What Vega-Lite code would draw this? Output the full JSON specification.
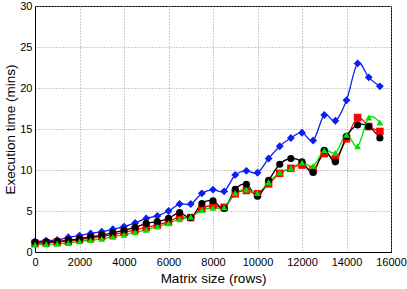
{
  "$schema": "https://vega.github.io/schema/vega-lite/v6.json",
  "width": 356,
  "height": 246,
  "autosize": {"type": "none"},
  "padding": {"left": 35, "top": 6, "right": 16, "bottom": 37},
  "background": "white",
  "config": {
    "view": {"stroke": "black", "strokeWidth": 1},
    "font": "Liberation Sans",
    "axis": {
      "labelFont": "Liberation Sans", "titleFont": "Liberation Sans",
      "labelFontSize": 11, "titleFontSize": 13.5, "titleFontWeight": "normal",
      "labelColor": "black", "titleColor": "black",
      "domainColor": "black", "tickColor": "black",
      "gridColor": "#9a9a9a", "gridDash": [1, 2], "gridWidth": 1,
      "ticks": false, "labelPadding": 4
    }
  },
  "data": {"values": [
    {"rows":0,"s":"1","t":1.26},{"rows":500,"s":"1","t":1.38},{"rows":1000,"s":"1","t":1.46},{"rows":1500,"s":"1","t":1.8},{"rows":2000,"s":"1","t":2.0},{"rows":2500,"s":"1","t":2.27},{"rows":3000,"s":"1","t":2.48},{"rows":3500,"s":"1","t":2.77},{"rows":4000,"s":"1","t":3.1},{"rows":4500,"s":"1","t":3.55},{"rows":5000,"s":"1","t":4.1},{"rows":5500,"s":"1","t":4.4},{"rows":6000,"s":"1","t":5.0},{"rows":6500,"s":"1","t":5.85},{"rows":7000,"s":"1","t":5.85},{"rows":7500,"s":"1","t":7.15},{"rows":8000,"s":"1","t":7.6},{"rows":8500,"s":"1","t":7.4},{"rows":9000,"s":"1","t":9.4},{"rows":9500,"s":"1","t":9.9},{"rows":10000,"s":"1","t":9.67},{"rows":10500,"s":"1","t":11.4},{"rows":11000,"s":"1","t":12.9},{"rows":11500,"s":"1","t":13.9},{"rows":12000,"s":"1","t":14.55},{"rows":12500,"s":"1","t":13.6},{"rows":13000,"s":"1","t":16.7},{"rows":13500,"s":"1","t":16.0},{"rows":14000,"s":"1","t":18.5},{"rows":14500,"s":"1","t":23.0},{"rows":15000,"s":"1","t":21.3},{"rows":15500,"s":"1","t":20.2},
    {"rows":0,"s":"2","t":1.05},{"rows":500,"s":"2","t":1.1},{"rows":1000,"s":"2","t":1.2},{"rows":1500,"s":"2","t":1.3},{"rows":2000,"s":"2","t":1.5},{"rows":2500,"s":"2","t":1.7},{"rows":3000,"s":"2","t":1.9},{"rows":3500,"s":"2","t":2.1},{"rows":4000,"s":"2","t":2.4},{"rows":4500,"s":"2","t":2.7},{"rows":5000,"s":"2","t":3.0},{"rows":5500,"s":"2","t":3.3},{"rows":6000,"s":"2","t":3.7},{"rows":6500,"s":"2","t":4.3},{"rows":7000,"s":"2","t":4.2},{"rows":7500,"s":"2","t":5.3},{"rows":8000,"s":"2","t":5.7},{"rows":8500,"s":"2","t":5.45},{"rows":9000,"s":"2","t":7.1},{"rows":9500,"s":"2","t":7.5},{"rows":10000,"s":"2","t":7.1},{"rows":10500,"s":"2","t":8.3},{"rows":11000,"s":"2","t":9.6},{"rows":11500,"s":"2","t":10.2},{"rows":12000,"s":"2","t":10.6},{"rows":12500,"s":"2","t":10.0},{"rows":13000,"s":"2","t":12.0},{"rows":13500,"s":"2","t":11.4},{"rows":14000,"s":"2","t":13.8},{"rows":14500,"s":"2","t":16.4},{"rows":15000,"s":"2","t":15.3},{"rows":15500,"s":"2","t":14.7},
    {"rows":0,"s":"3","t":1.2},{"rows":500,"s":"3","t":1.25},{"rows":1000,"s":"3","t":1.3},{"rows":1500,"s":"3","t":1.45},{"rows":2000,"s":"3","t":1.6},{"rows":2500,"s":"3","t":1.85},{"rows":3000,"s":"3","t":2.05},{"rows":3500,"s":"3","t":2.35},{"rows":4000,"s":"3","t":2.65},{"rows":4500,"s":"3","t":3.0},{"rows":5000,"s":"3","t":3.5},{"rows":5500,"s":"3","t":3.7},{"rows":6000,"s":"3","t":4.1},{"rows":6500,"s":"3","t":4.8},{"rows":7000,"s":"3","t":4.2},{"rows":7500,"s":"3","t":5.9},{"rows":8000,"s":"3","t":6.25},{"rows":8500,"s":"3","t":5.3},{"rows":9000,"s":"3","t":7.65},{"rows":9500,"s":"3","t":8.25},{"rows":10000,"s":"3","t":6.8},{"rows":10500,"s":"3","t":8.75},{"rows":11000,"s":"3","t":10.7},{"rows":11500,"s":"3","t":11.4},{"rows":12000,"s":"3","t":11.0},{"rows":12500,"s":"3","t":9.7},{"rows":13000,"s":"3","t":12.4},{"rows":13500,"s":"3","t":11.0},{"rows":14000,"s":"3","t":14.1},{"rows":14500,"s":"3","t":15.5},{"rows":15000,"s":"3","t":15.3},{"rows":15500,"s":"3","t":13.9},
    {"rows":0,"s":"4","t":0.9},{"rows":500,"s":"4","t":0.95},{"rows":1000,"s":"4","t":1.0},{"rows":1500,"s":"4","t":1.1},{"rows":2000,"s":"4","t":1.3},{"rows":2500,"s":"4","t":1.45},{"rows":3000,"s":"4","t":1.6},{"rows":3500,"s":"4","t":1.85},{"rows":4000,"s":"4","t":2.1},{"rows":4500,"s":"4","t":2.4},{"rows":5000,"s":"4","t":2.7},{"rows":5500,"s":"4","t":3.1},{"rows":6000,"s":"4","t":3.5},{"rows":6500,"s":"4","t":4.0},{"rows":7000,"s":"4","t":4.3},{"rows":7500,"s":"4","t":5.1},{"rows":8000,"s":"4","t":5.4},{"rows":8500,"s":"4","t":5.45},{"rows":9000,"s":"4","t":7.2},{"rows":9500,"s":"4","t":7.6},{"rows":10000,"s":"4","t":7.2},{"rows":10500,"s":"4","t":8.5},{"rows":11000,"s":"4","t":9.7},{"rows":11500,"s":"4","t":10.2},{"rows":12000,"s":"4","t":10.9},{"rows":12500,"s":"4","t":10.5},{"rows":13000,"s":"4","t":12.4},{"rows":13500,"s":"4","t":12.1},{"rows":14000,"s":"4","t":14.3},{"rows":14500,"s":"4","t":12.9},{"rows":15000,"s":"4","t":16.4},{"rows":15500,"s":"4","t":15.8}
  ]},
  "encoding": {
    "x": {"field": "rows", "type": "quantitative", "title": "Matrix size (rows)",
      "scale": {"domain": [0, 16000], "nice": false},
      "axis": {"values": [0,2000,4000,6000,8000,10000,12000,14000,16000], "format": "d", "titlePadding": 4, "labelFlush": false}},
    "y": {"field": "t", "type": "quantitative", "title": "Execution time (mins)",
      "scale": {"domain": [0, 30], "nice": false},
      "axis": {"values": [0,5,10,15,20,25,30], "titlePadding": 2, "labelPadding": 3, "labelFlush": false}},
    "color": {"field": "s", "type": "nominal", "legend": null,
      "scale": {"domain": ["1","2","3","4"], "range": ["#0a1ef5", "#ff0000", "#000000", "#00e000"]}}
  },
  "layer": [
    {"mark": {"type": "line", "interpolate": "cardinal", "strokeWidth": 1.3}},
    {"mark": {"type": "point", "filled": true, "opacity": 1},
     "encoding": {
       "shape": {"field": "s", "type": "nominal", "legend": null,
         "scale": {"domain": ["1","2","3","4"], "range": ["diamond", "square", "circle", "triangle-up"]}},
       "size": {"field": "s", "type": "nominal", "legend": null,
         "scale": {"domain": ["1","2","3","4"], "range": [62, 46, 60, 55]}}
     }}
  ]
}
